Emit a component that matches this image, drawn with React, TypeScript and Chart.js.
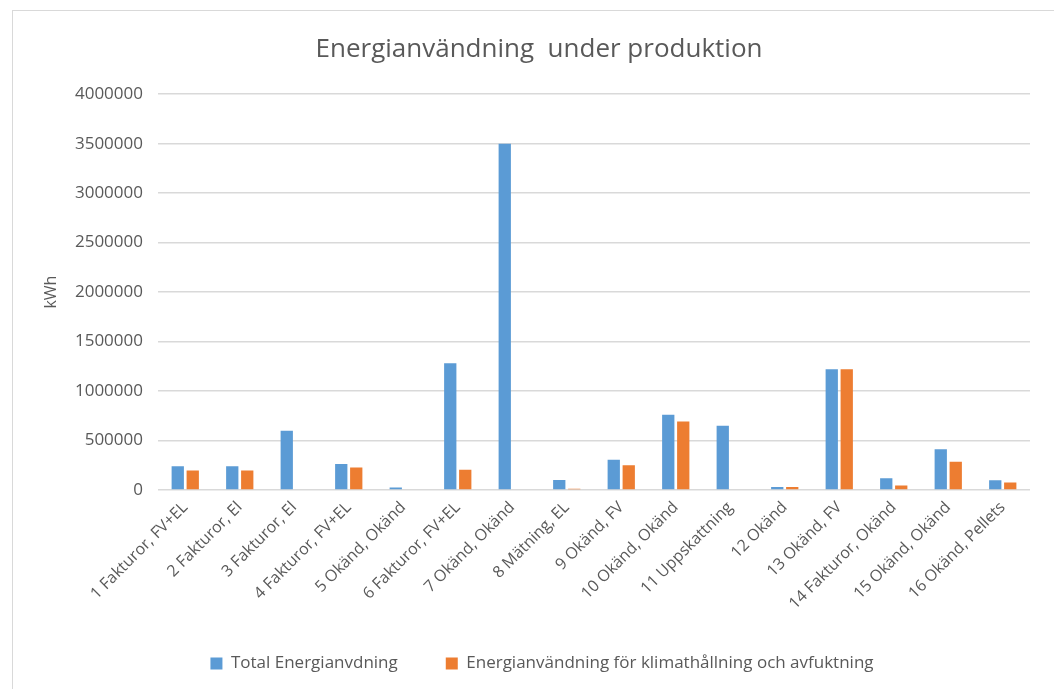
import React, { useEffect, useRef } from "react";
import { Chart, registerables } from "chart.js";

Chart.register(...registerables);

const categories = [
  "1 Fakturor, FV+EL",
  "2 Fakturor, El",
  "3 Fakturor, El",
  "4 Fakturor, FV+EL",
  "5 Okänd, Okänd",
  "6 Fakturor, FV+EL",
  "7 Okänd, Okänd",
  "8 Mätning, EL",
  "9 Okänd, FV",
  "10 Okänd, Okänd",
  "11 Uppskattning",
  "12 Okänd",
  "13 Okänd, FV",
  "14 Fakturor, Okänd",
  "15 Okänd, Okänd",
  "16 Okänd, Pellets",
];

const totalEnergy = [
  240000, 240000, 600000, 262000, 25000, 1280000, 3500000, 100000,
  305000, 760000, 650000, 30000, 1220000, 120000, 412000, 98000,
];

const climateEnergy = [
  197000, 197000, 0, 228000, 0, 205000, 0, 13000,
  250000, 692000, 0, 30000, 1220000, 45000, 285000, 76000,
];

const seriesNames = [
  "Total Energianvdning",
  "Energianvändning för klimathållning och avfuktning",
];

const chartTitle = "Energianvändning  under produktion";
const yAxisTitle = "kWh";
const yTicks = [0, 500000, 1000000, 1500000, 2000000, 2500000, 3000000, 3500000, 4000000];

const shiftPlugin = {
  id: "shiftTitleLegend",
  afterLayout(chart: any) {
    if (chart.legend) {
      chart.legend.left += 27;
      chart.legend.right += 27;
    }
    if (chart.titleBlock) {
      chart.titleBlock.left += 24;
      chart.titleBlock.right += 24;
    }
  },
};

export default function App() {
  const ref = useRef<HTMLCanvasElement>(null);

  useEffect(() => {
    if (!ref.current) return;
    const font = "'Open Sans', sans-serif";
    const gray = "#595959";
    const chart = new Chart(ref.current, {
      type: "bar",
      data: {
        labels: categories,
        datasets: [
          {
            label: seriesNames[0],
            data: totalEnergy,
            backgroundColor: "#5B9BD5",
            categoryPercentage: 0.55,
            barPercentage: 0.82,
          },
          {
            label: seriesNames[1],
            data: climateEnergy,
            backgroundColor: "#ED7D31",
            categoryPercentage: 0.55,
            barPercentage: 0.82,
          },
        ],
      },
      plugins: [shiftPlugin],
      options: {
        animation: false,
        responsive: false,
        layout: { padding: { left: 0, right: 24, top: 0, bottom: 7 } },
        plugins: {
          title: {
            display: true,
            text: chartTitle,
            color: gray,
            font: { family: font, size: 26, weight: "normal" },
            padding: { top: 34, bottom: 29 },
          },
          legend: {
            position: "bottom",
            labels: {
              color: gray,
              font: { family: font, size: 17 },
              boxWidth: 12,
              boxHeight: 12,
              padding: 48,
            },
          },
          tooltip: { enabled: false },
        },
        scales: {
          x: {
            grid: { display: false, drawTicks: false },
            border: { display: false },
            ticks: {
              color: gray,
              font: { family: font, size: 16 },
              maxRotation: 45,
              minRotation: 45,
              autoSkip: false,
              padding: 8,
            },
            afterFit: (scale: any) => {
              scale.height = 117;
            },
          },
          y: {
            min: 0,
            max: 4000000,
            border: { display: false },
            grid: { color: "#d9d9d9", lineWidth: 1.5, drawTicks: false },
            afterBuildTicks: (scale: any) => {
              scale.ticks = yTicks.map((v) => ({ value: v }));
            },
            ticks: {
              color: gray,
              font: { family: font, size: 17 },
              padding: 15,
              callback: (v: any) => String(v),
            },
            title: {
              display: true,
              text: yAxisTitle,
              color: gray,
              font: { family: font, size: 16 },
              padding: { top: 42, bottom: 0 },
            },
            afterFit: (scale: any) => {
              scale.width = 158;
            },
          },
        },
      },
    });
    return () => chart.destroy();
  }, []);

  return (
    <div style={{ position: "fixed", left: 0, top: 0, width: 1054, height: 689, background: "#fff", overflow: "hidden" }}>
      <div
        style={{
          position: "absolute",
          left: 12,
          top: 10,
          width: 1060,
          height: 700,
          border: "1px solid #d9d9d9",
          boxSizing: "border-box",
        }}
      />
      <canvas ref={ref} width={1054} height={689} style={{ position: "absolute", left: 0, top: 0 }} />
    </div>
  );
}
